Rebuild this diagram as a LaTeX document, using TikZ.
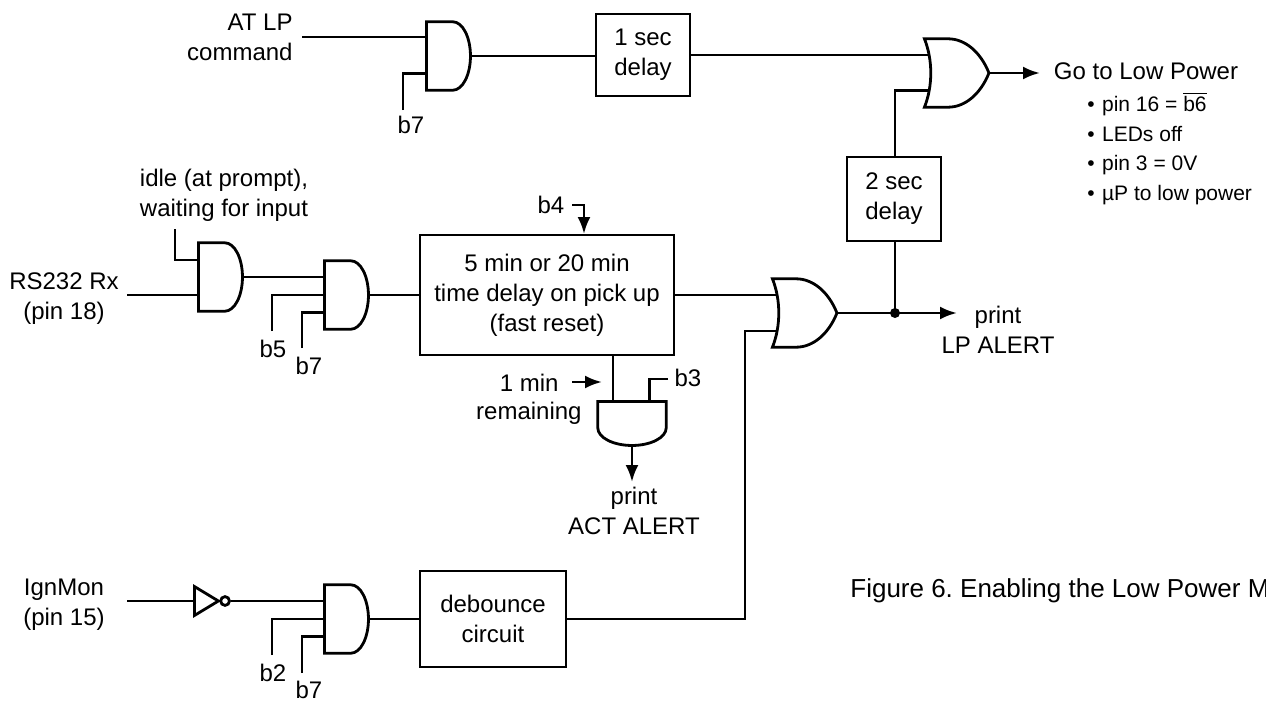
\documentclass[tikz,border=0pt]{standalone}
\usepackage{fontspec}
\setmainfont{Liberation Sans}
\usetikzlibrary{shapes.gates.logic.US,shapes.geometric,arrows.meta,positioning}
\tikzstyle{block} = [rectangle, draw, line width=1.4pt, align=center, inner sep=0pt]
\tikzstyle{andg} = [and gate US, draw, line width=1.4pt, logic gate inputs=nnn, logic gate input sep=9pt, inner sep=0pt, transform shape, xscale=.489, yscale=.95]
\tikzstyle{org} = [or gate US, draw, line width=1.4pt, logic gate inputs=nnn, logic gate input sep=9pt, inner sep=0pt, transform shape, xscale=.656, yscale=.95]
\tikzstyle{inv} = [isosceles triangle, isosceles triangle stretches, draw, line width=1.4pt, minimum width=14.5pt, minimum height=12pt, inner sep=0pt]
\tikzstyle{bubble} = [circle, draw, line width=1.4pt, minimum size=4.4pt, inner sep=0pt]
\tikzstyle{lbl} = [align=center, inner sep=0pt, font=\fontsize{12}{15}\selectfont]
\tikzstyle{wire} = [draw, line width=1.4pt]
\tikzstyle{line} = [draw, line width=1.4pt, -{Latex[length=8.5pt,width=6.5pt]}]
\begin{document}
\begin{tikzpicture}[x=0.5pt, y=-0.5pt, node distance=100pt, font=\fontsize{12}{15}\selectfont]
    \useasboundingbox (0,0) rectangle (1266,702);
    % Place nodes
    \node [andg] (andlp) at (447,56) {};
    \node [block, minimum width=47pt, minimum height=41pt] (delay1) at (643,55) {1 sec\\delay};
    \node [org] (orpower) at (952,73) {};
    \node [block, minimum width=47pt, minimum height=42pt] (delay2) at (894,199) {2 sec\\delay};
    \node [andg] (andrx) at (219,277) {};
    \node [andg] (andtm) at (345,295) {};
    \node [block, minimum width=127pt, minimum height=60pt] (timer) at (547,295) {5 min or 20 min\\time delay on pick up\\(fast reset)};
    \node [org] (oralert) at (800,313) {};
    \node [rotate=-90, andg] (andact) at (632,422) {};
    \node [inv, anchor=lower side] (notign) at (193,601) {};
    \node [bubble, right=-1.4pt of notign.apex] (notdot) {};
    \node [andg] (andign) at (345,619) {};
    \node [block, minimum width=73pt, minimum height=48pt] (debounce) at (493,619) {debounce\\circuit};
    % Place labels
    \node [lbl, anchor=east, align=right] (atlp) at (293,37) {AT LP\\command};
    \node [lbl] (b7lp) at (411,125) {b7};
    \node [lbl] (power) at (1146,71) {Go to Low Power};
    \node [lbl, anchor=north west, align=left, font=\fontsize{10.5}{14.75}\selectfont] (bullets) at (1087,92) {\textbullet\kern3.7pt pin 16 = $\overline{\mbox{b6}}$\\\textbullet\kern3.7pt LEDs off\\\textbullet\kern3.7pt pin 3 = 0V\\\textbullet\kern3.7pt µP to low power};
    \node [lbl] (idle) at (224,195) {idle (at prompt),\\waiting for input};
    \node [lbl] (rx) at (64,299) {RS232 Rx\\(pin 18)};
    \node [lbl] (b5) at (273,349) {b5};
    \node [lbl] (b7tm) at (309,366) {b7};
    \node [lbl] (b4) at (551,205) {b4};
    \node [lbl] (print) at (998,330) {print\\LP ALERT};
    \node [lbl, anchor=east] (onemin) at (559,383) {1 min};
    \node [lbl, anchor=east] (remain) at (582,413) {remaining};
    \node [lbl] (b3) at (688,378) {b3};
    \node [lbl] (printact) at (634,511) {print\\ACT ALERT};
    \node [lbl] (ign) at (64,605) {IgnMon\\(pin 15)};
    \node [lbl] (b2) at (273,673) {b2};
    \node [lbl] (b7ign) at (309,690) {b7};
    \node [lbl, anchor=west, font=\fontsize{13}{15}\selectfont\frenchspacing] (figure) at (850,591) {Figure 6. Enabling the Low Power M};
    % Free ends
    \coordinate (atlpend) at (302,37);
    \coordinate (b7lpend) at (403,110);
    \coordinate (powerend) at (1040,73);
    \coordinate (idleend) at (175,229);
    \coordinate (rxend) at (127,295);
    \coordinate (b5end) at (272,331);
    \coordinate (b7tmend) at (302,348);
    \coordinate (b4start) at (572,205);
    \coordinate (b4corner) at (584,205);
    \coordinate (b4end) at (584,234);
    \coordinate (alertend) at (957,313);
    \coordinate (onestart) at (572,382);
    \coordinate (oneend) at (602,382);
    \coordinate (b3end) at (668,379);
    \coordinate (actstart) at (613,355);
    \coordinate (actend) at (632,482);
    \coordinate (ignend) at (127,601);
    \coordinate (b2end) at (272,655);
    \coordinate (b7ignend) at (302,673);
    \coordinate (bustop) at (745,331);
    \coordinate (dot) at (895,313);
    % Draw edges
    \path [wire] (atlpend) -- (atlpend -| andlp.input 1);
    \path [wire] (b7lpend) |- (andlp.input 3);
    \path [wire] (andlp.output) -- (andlp.output -| delay1.west);
    \path [wire] (delay1) -- (delay1 -| orpower.input 1);
    \path [wire] (delay2.north -| dot) |- (orpower.input 3);
    \path [line] (orpower.output) -- (powerend);
    \path [wire] (idleend) |- (andrx.input 1);
    \path [wire] (rxend) -- (rxend -| andrx.input 3);
    \path [wire] (andrx.output) -- (andrx.output -| andtm.input 1);
    \path [wire] (b5end) |- (andtm.input 2);
    \path [wire] (b7tmend) |- (andtm.input 3);
    \path [wire] (andtm.output) -- (timer);
    \path [wire] (timer) -- (timer -| oralert.input 1);
    \path [line] (b4start) -- (b4corner) -- (b4end);
    \path [line] (oralert.output) -- (alertend);
    \path [wire] (dot) -- (delay2.south -| dot);
    \fill (dot) circle (5);
    \path [line] (onestart) -- (oneend);
    \path [wire] (actstart) -- (actstart |- andact.input 3);
    \path [wire] (b3end) -| (andact.input 1);
    \path [line] (andact.output) -- (actend);
    \path [wire] (ignend) -- (notign.lower side);
    \path [wire] (notdot.east) -- (notdot.east -| andign.input 1);
    \path [wire] (b2end) |- (andign.input 2);
    \path [wire] (b7ignend) |- (andign.input 3);
    \path [wire] (andign.output) -- (debounce);
    \path [wire] (debounce) -| (bustop) -- (bustop -| oralert.input 3);
\end{tikzpicture}
\end{document}
